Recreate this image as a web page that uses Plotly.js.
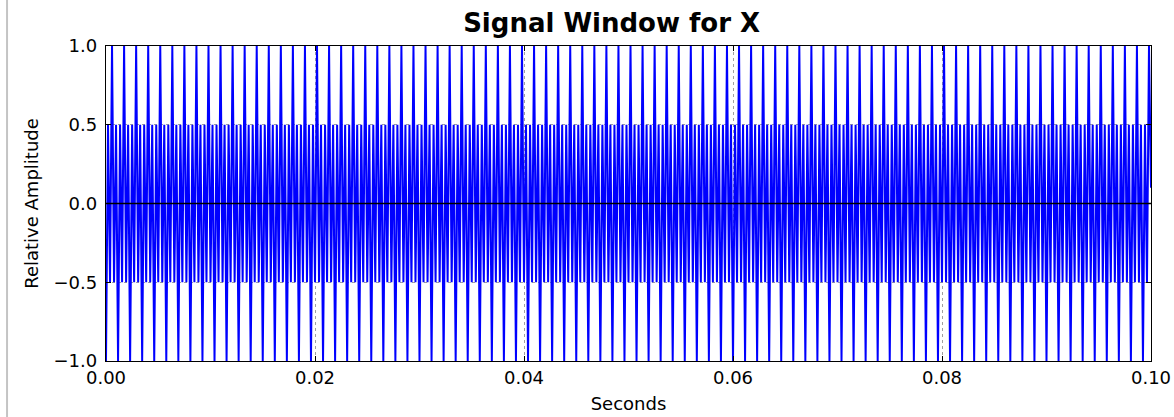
<!DOCTYPE html>
<html>
<head>
<meta charset="utf-8">
<script src="https://cdn.plot.ly/plotly-3.0.1.min.js"></script>
<style>
  html, body { margin: 0; padding: 0; background: #ffffff; }
  #chart { width: 1174px; height: 417px; }
</style>
</head>
<body>
<div id="chart"></div>
<script>
const sampleRate = 5200; // samples per second
const amplitude = [
  -1,.5,-.5,1,-.5,.5, -1,.5,-.5,1,-.5,.5, -1,.5,-.5,1,-.5,.5, -1,.5,-.5,1,-.5,.5, -1,.5,-.5,1,-.5,.5, -1,.5,-.5,1,-.5,.5,
  -1,.5,-.5,1,-.5,.5, -1,.5,-.5,1,-.5,.5, -1,.5,-.5,1,-.5,.5, -1,.5,-.5,1,-.5,.5, -1,.5,-.5,1,-.5,.5, -1,.5,-.5,1,-.5,.5,
  -1,.5,-.5,1,-.5,.5, -1,.5,-.5,1,-.5,.5, -1,.5,-.5,1,-.5,.5, -1,.5,-.5,1,-.5,.5, -1,.5,-.5,1,-.5,.5, -1,.5,-.5,1,-.5,.5,
  -1,.5,-.5,1,-.5,.5, -1,.5,-.5,1,-.5,.5, -1,.5,-.5,1,-.5,.5, -1,.5,-.5,1,-.5,.5, -1,.5,-.5,1,-.5,.5, -1,.5,-.5,1,-.5,.5,
  -1,.5,-.5,1,-.5,.5, -1,.5,-.5,1,-.5,.5, -1,.5,-.5,1,-.5,.5, -1,.5,-.5,1,-.5,.5, -1,.5,-.5,1,-.5,.5, -1,.5,-.5,1,-.5,.5,
  -1,.5,-.5,1,-.5,.5, -1,.5,-.5,1,-.5,.5, -1,.5,-.5,1,-.5,.5, -1,.5,-.5,1,-.5,.5, -1,.5,-.5,1,-.5,.5, -1,.5,-.5,1,-.5,.5,
  -1,.5,-.5,1,-.5,.5, -1,.5,-.5,1,-.5,.5, -1,.5,-.5,1,-.5,.5, -1,.5,-.5,1,-.5,.5, -1,.5,-.5,1,-.5,.5, -1,.5,-.5,1,-.5,.5,
  -1,.5,-.5,1,-.5,.5, -1,.5,-.5,1,-.5,.5, -1,.5,-.5,1,-.5,.5, -1,.5,-.5,1,-.5,.5, -1,.5,-.5,1,-.5,.5, -1,.5,-.5,1,-.5,.5,
  -1,.5,-.5,1,-.5,.5, -1,.5,-.5,1,-.5,.5, -1,.5,-.5,1,-.5,.5, -1,.5,-.5,1,-.5,.5, -1,.5,-.5,1,-.5,.5, -1,.5,-.5,1,-.5,.5,
  -1,.5,-.5,1,-.5,.5, -1,.5,-.5,1,-.5,.5, -1,.5,-.5,1,-.5,.5, -1,.5,-.5,1,-.5,.5, -1,.5,-.5,1,-.5,.5, -1,.5,-.5,1,-.5,.5,
  -1,.5,-.5,1,-.5,.5, -1,.5,-.5,1,-.5,.5, -1,.5,-.5,1,-.5,.5, -1,.5,-.5,1,-.5,.5, -1,.5,-.5,1,-.5,.5, -1,.5,-.5,1,-.5,.5,
  -1,.5,-.5,1,-.5,.5, -1,.5,-.5,1,-.5,.5, -1,.5,-.5,1,-.5,.5, -1,.5,-.5,1,-.5,.5, -1,.5,-.5,1,-.5,.5, -1,.5,-.5,1,-.5,.5,
  -1,.5,-.5,1,-.5,.5, -1,.5,-.5,1,-.5,.5, -1,.5,-.5,1,-.5,.5, -1,.5,-.5,1,-.5,.5, -1,.5,-.5,1,-.5,.5, -1,.5,-.5,1,-.5,.5,
  -1,.5,-.5,1,-.5,.5, -1,.5,-.5,1,-.5,.5, -1,.5,-.5,1,-.5,.5, -1,.5,-.5,1,-.5,.5, -1,.5,-.5,1,-.5,.5, -1,.5,-.5,1,-.5,.5,
  -1,.5,-.5,1,-.5,.5, -1,.5,-.5,1,-.5,.5,
  -1,.5,-.5,1,.1
];
// Sample times in seconds (sample index / sample rate)
const seconds = amplitude.map((_, i) => i / sampleRate);

// Axis ticks
const xTickVals = [0, 0.02, 0.04, 0.06, 0.08, 0.10];
const xTickText = ["0.00", "0.02", "0.04", "0.06", "0.08", "0.10"];
const yTickVals = [-1, -0.5, 0, 0.5, 1];
const yTickText = ["\u22121.0", "\u22120.5", "0.0", "0.5", "1.0"];

const FONT = "DejaVu Sans, Liberation Sans, sans-serif";

const trace = {
  type: "scatter",
  mode: "lines",
  x: seconds,
  y: amplitude,
  line: { color: "#0000ff", width: 2 },
  hoverinfo: "skip",
  showlegend: false
};

const layout = {
  width: 1174,
  height: 417,
  paper_bgcolor: "#ffffff",
  plot_bgcolor: "#ffffff",
  margin: { l: 106, r: 23, t: 46, b: 56 },
  font: { family: FONT, color: "#000000", size: 18 },
  title: {
    text: "<b>Signal Window for X</b>",
    font: { family: FONT, size: 26, color: "#000000" },
    x: 0.521, xref: "container", xanchor: "center",
    y: 1, yref: "container", yanchor: "top", pad: { t: 14 }
  },
  xaxis: {
    range: [0, 0.1],
    tickmode: "array",
    tickvals: xTickVals,
    ticktext: xTickText,
    ticks: "inside",
    ticklen: 5,
    tickcolor: "#000000",
    showline: true,
    mirror: "ticks",
    linecolor: "#000000",
    linewidth: 1.2,
    showgrid: true,
    gridcolor: "#a0a0a0",
    griddash: "dot",
    gridwidth: 1,
    zeroline: false,
    tickfont: { family: FONT, size: 18 },
    title: { text: "Seconds", font: { family: FONT, size: 18 }, standoff: 10 }
  },
  yaxis: {
    range: [-1, 1],
    tickmode: "array",
    tickvals: yTickVals,
    ticktext: yTickText,
    ticks: "inside",
    ticklen: 5,
    tickcolor: "#000000",
    ticklabelstandoff: 4,
    showline: true,
    mirror: "ticks",
    linecolor: "#000000",
    linewidth: 1.2,
    showgrid: true,
    gridcolor: "#a0a0a0",
    griddash: "dot",
    gridwidth: 1,
    zeroline: false,
    tickfont: { family: FONT, size: 18 },
    title: { text: "Relative Amplitude", font: { family: FONT, size: 18 }, standoff: 10 }
  },
  shapes: [
    { type: "line", xref: "paper", yref: "y", x0: 0, x1: 1, y0: 0, y1: 0,
      line: { color: "#000000", width: 1.5 }, layer: "above" },
    { type: "line", xref: "paper", yref: "paper", x0: -0.0947, x1: -0.0947, y0: -0.19, y1: 1.16,
      line: { color: "#c4c4c4", width: 2 }, layer: "above" }
  ]
};

Plotly.newPlot("chart", [trace], layout, { staticPlot: true, displayModeBar: false });
</script>
</body>
</html>
